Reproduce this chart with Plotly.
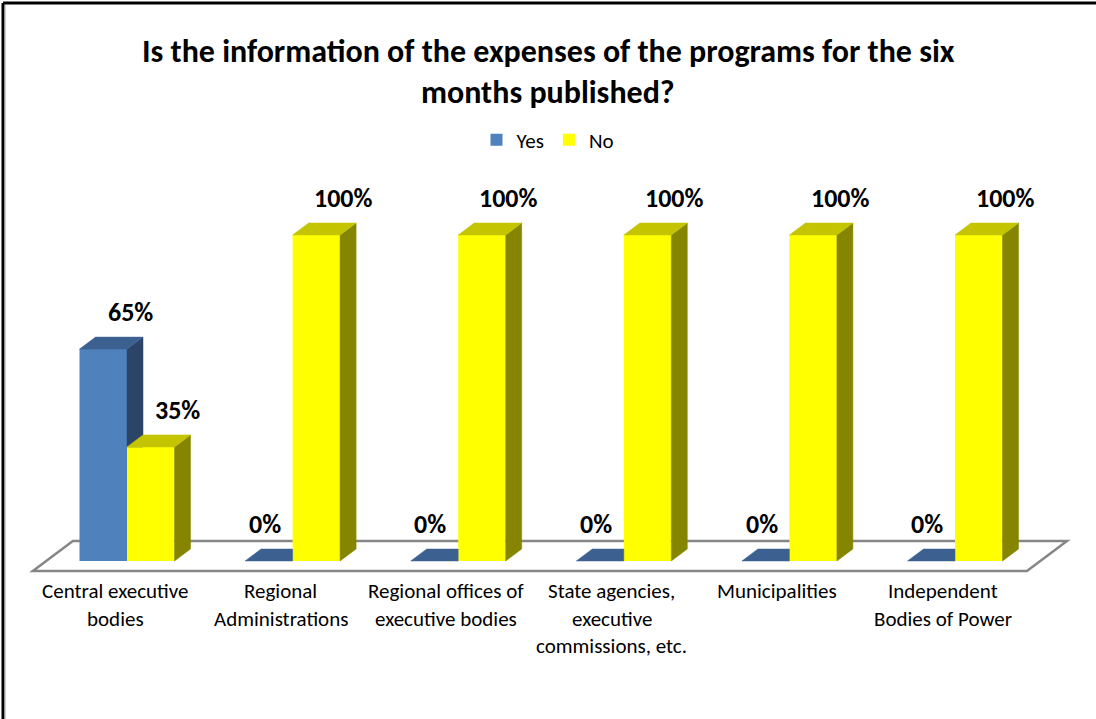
import plotly.graph_objects as go

# ---------------- data ----------------
categories = [
    "Central executive bodies",
    "Regional Administrations",
    "Regional offices of executive bodies",
    "State agencies, executive commissions, etc.",
    "Municipalities",
    "Independent Bodies of Power",
]
category_lines = [
    ["Central executive", "bodies"],
    ["Regional", "Administrations"],
    ["Regional offices of", "executive bodies"],
    ["State agencies,", "executive", "commissions, etc."],
    ["Municipalities"],
    ["Independent", "Bodies of Power"],
]
series_names = ["Yes", "No"]
yes_values = [65, 0, 0, 0, 0, 0]
no_values = [35, 100, 100, 100, 100, 100]
title_lines = [
    "Is the information of the expenses of the programs for the six",
    "months published?",
]

# ---------------- style / geometry ----------------
W, H = 1096, 719
FONT = "Calibri, Carlito, Lato, sans-serif"
PX_PER_CAT = 165.6
X0_PX = 127.0
PX_PER_PCT = 3.26
BASE_PX = 561.0
x_range = [-X0_PX / PX_PER_CAT, (W - X0_PX) / PX_PER_CAT]
y_range = [-(H - BASE_PX) / PX_PER_PCT, BASE_PX / PX_PER_PCT]

BAR_W = 47.5 / PX_PER_CAT
DX = 16.0 / PX_PER_CAT
DY = 12.0 / PX_PER_PCT

colors = {
    "Yes": {"front": "#4F81BD", "top": "#3C6191", "side": "#2B4467"},
    "No": {"front": "#FFFF00", "top": "#C4C400", "side": "#858500"},
}

n = len(categories)
xs = list(range(n))

fig = go.Figure()

# front faces as real bars
fig.add_trace(go.Bar(x=xs, y=yes_values, width=BAR_W, offset=-BAR_W, name=series_names[0],
                     marker=dict(color=colors["Yes"]["front"], line=dict(width=0)), hoverinfo="skip"))
fig.add_trace(go.Bar(x=xs, y=no_values, width=BAR_W, offset=0, name=series_names[1],
                     marker=dict(color=colors["No"]["front"], line=dict(width=0)), hoverinfo="skip"))


def clip(poly, inside, intersect):
    out = []
    for i in range(len(poly)):
        cur, prev = poly[i], poly[i - 1]
        if inside(cur):
            if not inside(prev):
                out.append(intersect(prev, cur))
            out.append(cur)
        elif inside(prev):
            out.append(intersect(prev, cur))
    return out


def clip_y_above(poly, yc):
    def inter(a, b):
        t = (yc - a[1]) / (b[1] - a[1])
        return (a[0] + t * (b[0] - a[0]), yc)
    return clip(poly, lambda p: p[1] >= yc, inter)


def clip_x_left(poly, xc):
    def inter(a, b):
        t = (xc - a[0]) / (b[0] - a[0])
        return (xc, a[1] + t * (b[1] - a[1]))
    return clip(poly, lambda p: p[0] <= xc, inter)


def add_polys(polys, color):
    px, py = [], []
    for poly in polys:
        if len(poly) < 3:
            continue
        for p in poly + [poly[0]]:
            px.append(p[0])
            py.append(p[1])
        px.append(None)
        py.append(None)
    fig.add_trace(go.Scatter(x=px, y=py, mode="lines", fill="toself", fillcolor=color,
                             line=dict(color=color, width=0.5), hoverinfo="skip", showlegend=False))


yes_side, yes_top, no_side, no_top = [], [], [], []
for i in xs:
    vb, vy = yes_values[i], no_values[i]
    # Yes bar (left)
    xl, xr = i - BAR_W, i
    side = [(xr, 0), (xr + DX, DY), (xr + DX, vb + DY), (xr, vb)]
    top = [(xl, vb), (xr, vb), (xr + DX, vb + DY), (xl + DX, vb + DY)]
    if vy < vb + DY:
        yes_side.append(clip_y_above(side, vy) if vy > 0 else side)
    if vy >= vb + DY:
        top = clip_x_left(top, xr)
    yes_top.append(top)
    # No bar (right)
    xl, xr = i, i + BAR_W
    no_side.append([(xr, 0), (xr + DX, DY), (xr + DX, vy + DY), (xr, vy)])
    no_top.append([(xl, vy), (xr, vy), (xr + DX, vy + DY), (xl + DX, vy + DY)])

add_polys(yes_side, colors["Yes"]["side"])
add_polys(yes_top, colors["Yes"]["top"])
add_polys(no_side, colors["No"]["side"])
add_polys(no_top, colors["No"]["top"])

# floor
FRONT_F, BACK_F = -10.0 / 12.0, 20.0 / 12.0
fa, fb = -0.488, n - 0.485
corners = [(fa + FRONT_F * DX, FRONT_F * DY), (fb + FRONT_F * DX, FRONT_F * DY),
           (fb + BACK_F * DX, BACK_F * DY), (fa + BACK_F * DX, BACK_F * DY)]
path = "M " + " L ".join(f"{x},{y}" for x, y in corners) + " Z"
shapes = [dict(type="path", path=path, xref="x", yref="y", layer="below",
               line=dict(color="#868686", width=2.5), fillcolor="rgba(0,0,0,0)")]
# outer border: only top and left edges are visible in the reference
shapes.append(dict(type="line", xref="paper", yref="paper", x0=3 / W, x1=1, y0=1 - 3 / H, y1=1 - 3 / H,
                   line=dict(color="black", width=3), layer="above"))
shapes.append(dict(type="line", xref="paper", yref="paper", x0=3 / W, x1=3 / W, y0=0, y1=1 - 3 / H,
                   line=dict(color="black", width=3), layer="above"))
shapes.append(dict(type="line", xref="paper", yref="paper", x0=5 / W, x1=5 / W, y0=0, y1=1 - 5 / H,
                   line=dict(color="#A0A0A0", width=1), layer="above"))

annotations = []
# data labels
for vals, off in ((yes_values, -BAR_W / 2), (no_values, BAR_W / 2)):
    for i, v in zip(xs, vals):
        annotations.append(dict(x=i + off, y=v, xref="x", yref="y", text=f"<b>{v}%</b>",
                                showarrow=False, xshift=27 if v > 0 else -4, yshift=37,
                                font=dict(family=FONT, size=26, color="black")))
# category labels
for i, lines in zip(xs, category_lines):
    for k, line in enumerate(lines):
        annotations.append(dict(x=i, y=0, xref="x", yref="y", text=line, showarrow=False,
                                xshift=-12, yshift=-(30 + 27.5 * k),
                                font=dict(family=FONT, size=21, color="black")))
# title
for k, line in enumerate(title_lines):
    annotations.append(dict(x=0.5, y=1 - (52 + 40 * k) / H, xref="paper", yref="paper",
                            xanchor="center", yanchor="middle",
                            text=f"<b>{line}</b>", showarrow=False,
                            font=dict(family=FONT, size=32, color="black")))

fig.update_layout(
    width=W, height=H,
    margin=dict(l=0, r=0, t=0, b=0),
    paper_bgcolor="white", plot_bgcolor="white",
    barmode="overlay",
    xaxis=dict(range=x_range, visible=False, fixedrange=True),
    yaxis=dict(range=y_range, visible=False, fixedrange=True),
    legend=dict(orientation="h", x=0.5, xanchor="center", y=1 - 140 / H, yanchor="middle",
                font=dict(family=FONT, size=21, color="black"), itemwidth=30,
                bgcolor="rgba(0,0,0,0)"),
    shapes=shapes,
    annotations=annotations,
    showlegend=True,
)

fig.write_html("out.html", config={"displayModeBar": False},
               post_script="document.body.style.margin='0';")
